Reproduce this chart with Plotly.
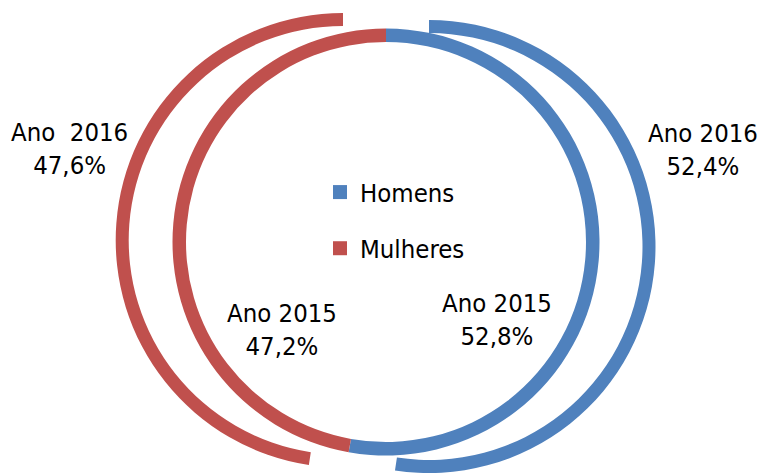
import plotly.graph_objects as go

categories = ["Homens", "Mulheres"]
values_2015 = [52.8, 47.2]
values_2016 = [52.4, 47.6]
years = ["Ano 2015", "Ano 2016"]
colors = ["#4F81BD", "#C0504D"]
CLEAR = "rgba(0,0,0,0)"

W, H = 761, 473
FONT = "DejaVu Sans Condensed, Liberation Sans, sans-serif"
FS = 25.5


def dom(cx, cy, r):
    return dict(x=[(cx - r) / W, (cx + r) / W], y=[1 - (cy + r) / H, 1 - (cy - r) / H])


def pct(v):
    return f"{v:.1f}".replace(".", ",") + "%"


fig = go.Figure()

# inner ring: 2015
fig.add_trace(go.Pie(
    labels=categories, values=values_2015, sort=False, direction="clockwise", rotation=0,
    hole=(213.5 - 13.5) / 213.5, domain=dom(386, 242, 213.5),
    marker=dict(colors=colors, line=dict(width=0)), textinfo="none", showlegend=False,
    name="2015",
))
# outer ring: 2016, exploded slices drawn as separate rings
fig.add_trace(go.Pie(
    labels=categories, values=values_2016, sort=False, direction="clockwise", rotation=0,
    hole=(226.5 - 13) / 226.5, domain=dom(429, 246.5, 226.5),
    marker=dict(colors=[colors[0], CLEAR], line=dict(width=0)), textinfo="none", showlegend=False,
    name="2016",
))
fig.add_trace(go.Pie(
    labels=categories, values=values_2016, sort=False, direction="clockwise", rotation=0,
    hole=(227.3 - 13) / 227.3, domain=dom(343, 240.3, 227.3),
    marker=dict(colors=[CLEAR, colors[1]], line=dict(width=0)), textinfo="none", showlegend=False,
    name="2016",
))

# legend entries
for i, c in enumerate(categories):
    fig.add_trace(go.Scatter(
        x=[None], y=[None], mode="markers", name=c, legendgroup=c,
        marker=dict(symbol="square", size=14, color=colors[i]),
    ))

label_pos = [
    (years[1], values_2016[0], 703, 149),
    (years[1].replace(" ", "\u00a0 "), values_2016[1], 69, 148),
    (years[0], values_2015[0], 497, 319),
    (years[0], values_2015[1], 282, 329),
]
for yr, v, px, py in label_pos:
    fig.add_annotation(
        x=px / W, y=1 - py / H, xref="paper", yref="paper", showarrow=False,
        text=f"{yr}<br>{pct(v)}", xanchor="center", yanchor="middle", align="center",
        font=dict(family=FONT, size=FS, color="#000000"),
    )

fig.update_layout(
    width=W, height=H, margin=dict(l=0, r=0, t=0, b=0),
    paper_bgcolor="white", plot_bgcolor="white",
    xaxis=dict(visible=False), yaxis=dict(visible=False),
    showlegend=True,
    legend=dict(x=320 / W, y=1 - 169 / H, xanchor="left", yanchor="top",
                font=dict(family=FONT, size=FS, color="#000000"),
                tracegroupgap=20, bgcolor="rgba(0,0,0,0)"),
)

fig.write_html("out.html", config={"displayModeBar": False},
               post_script="document.body.style.margin='0';")
